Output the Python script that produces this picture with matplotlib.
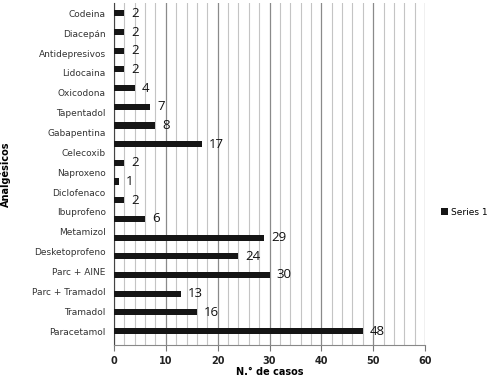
import numpy as np
import matplotlib.pyplot as plt
from matplotlib.ticker import MultipleLocator

# etiquetas del eje (17) y valores de las barras (18), tal como en el original
etiquetas = ["Codeina", "Diacepán", "Antidepresivos", "Lidocaina", "Oxicodona",
             "Tapentadol", "Gabapentina", "Celecoxib", "Naproxeno", "Diclofenaco",
             "Ibuprofeno", "Metamizol", "Desketoprofeno", "Parc + AINE",
             "Parc + Tramadol", "Tramadol", "Paracetamol"]
valores = [2, 2, 2, 2, 4, 7, 8, 17, 2, 1, 2, 6, 29, 24, 30, 13, 16, 48]
x_ticks = [0, 10, 20, 30, 40, 50, 60]

fig = plt.figure(figsize=(5, 3.83), dpi=100)
ax = fig.add_axes([0.228, 0.099, 0.622, 0.893])

pos = np.arange(len(valores))
ax.barh(pos, valores, height=0.33, color="#151515", zorder=3, label="Series 1")

for p, v in zip(pos, valores):
    ax.text(v + 1.3, p, str(v), va="center", ha="left", fontsize=9.5,
            fontname="Open Sans", color="#111111", zorder=4)

# etiquetas repartidas sobre el mismo rango que las barras
ax.set_yticks(np.linspace(0, len(valores) - 1, len(etiquetas)))
ax.set_yticklabels(etiquetas, fontsize=6.5, color="#333333")
ax.tick_params(axis="y", length=0, pad=6)

ax.set_xlim(0, 60)
ax.set_ylim(17.75, -0.55)
ax.set_xticks(x_ticks)
ax.xaxis.set_minor_locator(MultipleLocator(2))
ax.tick_params(axis="x", which="major", length=4, color="#777777", labelsize=7,
               labelcolor="#222222", pad=4)
ax.tick_params(axis="x", which="minor", length=0)
for lab in ax.get_xticklabels():
    lab.set_fontweight("bold")

ax.grid(axis="x", which="minor", color="#c4c4c4", linewidth=0.8, zorder=0)
ax.grid(axis="x", which="major", color="#8a8a8a", linewidth=0.9, zorder=1)
ax.set_axisbelow(True)

for s in ["top", "right"]:
    ax.spines[s].set_visible(False)
ax.spines["left"].set_color("#444444")
ax.spines["bottom"].set_color("#888888")

ax.set_xlabel("N.° de casos", fontsize=7, fontweight="bold")
ax.xaxis.set_label_coords(0.5, -0.065)
ax.set_ylabel("Analgésicos", fontsize=7, fontweight="bold")
ax.yaxis.set_label_coords(-0.33, 0.5)

fig.legend(loc="center left", bbox_to_anchor=(0.865, 0.445), frameon=False,
           fontsize=6.5, handlelength=0.8, handleheight=0.8, handletextpad=0.4)

fig.savefig("out.png", dpi=100)
